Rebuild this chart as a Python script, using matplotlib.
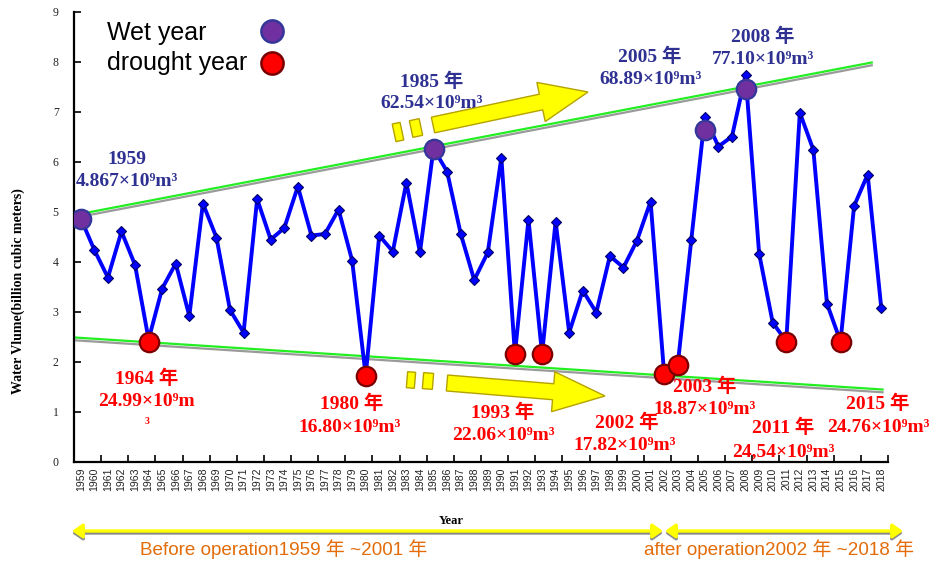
import matplotlib
matplotlib.use('Agg')
import matplotlib.pyplot as plt
import numpy as np
from matplotlib.lines import Line2D
from matplotlib.patches import Polygon, FancyArrowPatch
import matplotlib.patheffects as pe

# ---------------- data ----------------
years = list(range(1959, 2019))
volume = [4.87, 4.24, 3.69, 4.61, 3.94, 2.45, 3.47, 3.97, 2.92, 5.17,
          4.49, 3.04, 2.59, 5.26, 4.45, 4.68, 5.51, 4.53, 4.56, 5.05,
          4.03, 1.73, 4.53, 4.21, 5.59, 4.19, 6.27, 5.81, 4.57, 3.64,
          4.19, 6.09, 2.16, 4.85, 2.16, 4.81, 2.59, 3.43, 2.99, 4.12,
          3.89, 4.43, 5.21, 1.76, 1.94, 4.44, 6.91, 6.31, 6.51, 7.74,
          4.17, 2.79, 2.41, 6.99, 6.24, 3.17, 2.41, 5.12, 5.75, 3.09]
wet_years = [1959, 1985, 2005, 2008]
wet_values = [4.87, 6.27, 6.64, 7.47]
drought_years = [1964, 1980, 1991, 1993, 2002, 2003, 2011, 2015]
drought_values = [2.41, 1.73, 2.16, 2.16, 1.76, 1.94, 2.41, 2.41]
# trend envelope lines (category index, value)
upper_trend_x = [-0.25, 58.3]
upper_trend_y = [4.95, 7.99]
lower_trend_x = [-0.45, 59.1]
lower_trend_y = [2.49, 1.45]
y_ticks = [0, 1, 2, 3, 4, 5, 6, 7, 8, 9]
legend_labels = ['Wet year', 'drought year']

W, H = 933, 563
fig = plt.figure(figsize=(W / 100, H / 100), dpi=100)
ax = fig.add_axes([74 / W, 1 - 462 / H, 814 / W, 450 / H])


def P(x, y):
    return (x / W, 1 - y / H)


idx = {y: i for i, y in enumerate(years)}
xs = np.arange(len(years))

# trend lines with grey shadow
shadow = [pe.SimpleLineShadow(offset=(0, -2), shadow_color='#9a9a9a', alpha=1), pe.Normal()]
ax.plot(upper_trend_x, upper_trend_y, color='#22EE22', lw=1.6, zorder=2, path_effects=shadow)
ax.plot(lower_trend_x, lower_trend_y, color='#22EE22', lw=1.6, zorder=2, path_effects=shadow)

# main series
ax.plot(xs, volume, color='#0000FF', lw=2.8, marker='D', ms=5.6,
        mfc='#0000FF', mec='#000066', mew=0.8, zorder=3)
ax.plot([idx[y] for y in wet_years], wet_values, ls='none', marker='o', ms=14,
        mfc='#7030A0', mec='#34379A', mew=1.6, zorder=4)
ax.plot([idx[y] for y in drought_years], drought_values, ls='none', marker='o', ms=14,
        mfc='#FF0000', mec='#7A0000', mew=1.6, zorder=4)

ax.set_xlim(-0.5, len(years) - 0.5)
ax.set_ylim(0, 9)
for s in ['top', 'right']:
    ax.spines[s].set_visible(False)
for s in ['left', 'bottom']:
    ax.spines[s].set_linewidth(1.6)
    ax.spines[s].set_color('black')

ax.set_yticks(y_ticks)
ax.set_yticklabels([str(v) for v in y_ticks], fontfamily='Liberation Serif', fontsize=8.5, color='#222222')
ax.tick_params(axis='y', direction='in', length=5, width=1.2, pad=11)

ax.set_xticks(np.arange(1.5, len(years), 2))
ax.set_xticklabels([])
ax.tick_params(axis='x', which='major', direction='in', length=5, width=1.2)
ax.set_xticks(xs, minor=True)
ax.set_xticklabels([str(y) for y in years], minor=True, rotation=90,
                   fontfamily='Liberation Sans', fontsize=7.6, color='#222222')
ax.tick_params(axis='x', which='minor', length=0, pad=4)

fig.text(*P(18, 291), 'Water Vlume(billion cubic meters)', rotation=90, ha='center', va='center',
         fontfamily='Liberation Serif', fontweight='bold', fontsize=10)
fig.text(*P(451, 521), 'Year', ha='center', va='center', fontfamily='Liberation Serif',
         fontweight='bold', fontsize=9)

# legend: keys via legend (no text), labels left-aligned as text
handles = [Line2D([], [], ls='none', marker='o', ms=16, mfc='#7030A0', mec='#34379A', mew=1.8),
           Line2D([], [], ls='none', marker='o', ms=16, mfc='#FF0000', mec='#7A0000', mew=1.8)]
leg = ax.legend(handles, ['', ''], frameon=False,
                loc='center', bbox_to_anchor=P(272, 49), bbox_transform=fig.transFigure,
                borderpad=0, borderaxespad=0, handlelength=1.0, handletextpad=0.0,
                labelspacing=0.42, prop={'family': 'Liberation Sans', 'size': 17})
fig.text(*P(107, 33), legend_labels[0], ha='left', va='center',
         fontfamily='Liberation Sans', fontsize=18)
fig.text(*P(107, 63), legend_labels[1], ha='left', va='center',
         fontfamily='Liberation Sans', fontsize=18)

# annotations
wet_c = '#2E3192'
dry_c = '#FF0000'
fam = ['Liberation Serif', 'Noto Sans CJK SC']
notes = [
    ('1959', 127, 160, wet_c), ('4.867×10⁹m³', 127, 182, wet_c),
    ('1985 年', 432, 82, wet_c), ('62.54×10⁹m³', 432, 104, wet_c),
    ('2005 年', 650, 57, wet_c), ('68.89×10⁹m³', 651, 79, wet_c),
    ('2008 年', 763, 37, wet_c), ('77.10×10⁹m³', 763, 60, wet_c),
    ('1964 年', 147, 379, dry_c), ('24.99×10⁹m', 146, 402, dry_c),
    ('1980 年', 352, 404, dry_c), ('16.80×10⁹m³', 350, 427, dry_c),
    ('1993 年', 503, 413, dry_c), ('22.06×10⁹m³', 503, 436, dry_c),
    ('2002 年', 627, 423, dry_c), ('17.82×10⁹m³', 625, 445, dry_c),
    ('2003 年', 705, 387, dry_c), ('18.87×10⁹m³', 705, 410, dry_c),
    ('2011 年', 783, 428, dry_c), ('24,54×10⁹m³', 783, 452, dry_c),
    ('2015 年', 878, 404, dry_c), ('24.76×10⁹m³', 878, 427, dry_c),
]
for t, x, y, c in notes:
    fig.text(*P(x, y), t, ha='center', va='center', color=c, fontfamily=fam,
             fontweight='bold', fontsize=14)
fig.text(*P(147, 421), '3', ha='center', va='center', color=dry_c, fontfamily=fam,
         fontweight='bold', fontsize=7)


# yellow block arrows
def block_arrow(tail, tip, shaft_hw, head_hw, head_len):
    t = np.array(tail, float)
    p = np.array(tip, float)
    d = p - t
    u = d / np.linalg.norm(d)
    n = np.array([-u[1], u[0]])
    b = p - u * head_len
    pts = [t + n * shaft_hw, b + n * shaft_hw, b + n * head_hw, p,
           b - n * head_hw, b - n * shaft_hw, t - n * shaft_hw]
    return pts, u, n


def add_poly(pts):
    fpts = [P(x, y) for x, y in pts]
    fig.patches.append(Polygon(fpts, closed=True, transform=fig.transFigure,
                               facecolor='#FFFF00', edgecolor='#B5A200', lw=1.0, zorder=5))


def dash(center, u, n, a, b):
    c = np.array(center, float)
    pts = [c - u * a - n * b, c + u * a - n * b, c + u * a + n * b, c - u * a + n * b]
    add_poly(pts)


pts, u, n = block_arrow((433, 125), (588, 92), 8, 20, 48)
add_poly(pts)
dash((398, 132), u, n, 4, 9)
dash((416, 128), u, n, 5, 8.5)

pts, u, n = block_arrow((447, 383), (605, 396), 8, 20, 52)
add_poly(pts)
dash((411, 380), u, n, 4, 8)
dash((428, 381), u, n, 5, 8)

# bottom double arrows
for (x0, x1) in [(72, 663), (665, 903)]:
    for off, col in [(2, '#8a8a8a'), (0, '#FFFF00')]:
        fa = FancyArrowPatch(P(x0, 531 + off), P(x1, 531 + off), transform=fig.transFigure,
                             arrowstyle='<|-|>,head_length=0.5,head_width=0.35', mutation_scale=12,
                             color=col, lw=2.4, shrinkA=0, shrinkB=0)
        fig.patches.append(fa)

ofam = ['Liberation Sans', 'Noto Sans CJK SC']
fig.text(*P(284, 549), 'Before operation1959 年 ~2001 年', ha='center', va='center',
         color='#E36C09', fontfamily=ofam, fontsize=13.6)
fig.text(*P(779, 549), 'after operation2002 年 ~2018 年', ha='center', va='center',
         color='#E36C09', fontfamily=ofam, fontsize=13.6)

fig.savefig('out.png', dpi=100)
